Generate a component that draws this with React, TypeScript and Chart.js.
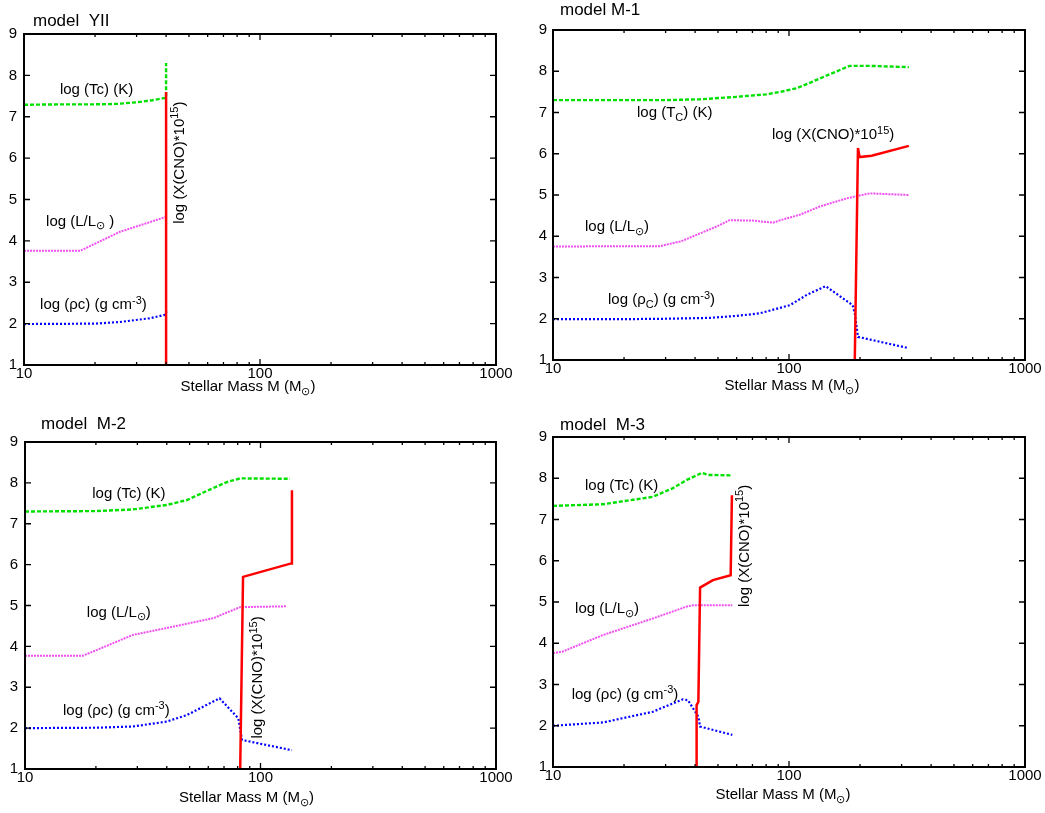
import React, { useEffect, useRef } from 'react';
import { Chart, registerables } from 'chart.js';
Chart.register(...registerables);

const FONT = '"Liberation Sans", Arial, Helvetica, sans-serif';
const GREEN = '#00e000';
const MAGENTA = '#f050f0';
const BLUE = '#0000ff';
const RED = '#ff0000';

// ---- Panel 1: model YII ----
const yiiTcM = [10, 15, 20, 24.8, 30, 35, 40, 40];
const yiiTcV = [7.29, 7.3, 7.3, 7.31, 7.35, 7.4, 7.46, 8.3];
const yiiLM = [10, 17.3, 25.5, 40, 40];
const yiiLV = [3.76, 3.76, 4.22, 4.58, 4.72];
const yiiRhoM = [10, 20, 25.5, 34.2, 40, 40];
const yiiRhoV = [1.99, 2.0, 2.04, 2.13, 2.22, 2.33];
const yiiCnoM = [40, 40];
const yiiCnoV = [1, 7.6];

// ---- Panel 2: model M-1 ----
const m1TcM = [10, 20, 30, 42, 60, 80, 92, 108, 126, 149, 181, 220, 322];
const m1TcV = [7.3, 7.3, 7.3, 7.32, 7.38, 7.44, 7.5, 7.59, 7.75, 7.93, 8.13, 8.13, 8.1];
const m1LM = [10, 20, 28.4, 35, 42, 50, 56, 70, 85.5, 92, 111, 135, 176, 220, 322];
const m1LV = [3.75, 3.76, 3.76, 3.88, 4.07, 4.25, 4.39, 4.38, 4.33, 4.39, 4.52, 4.72, 4.92, 5.04, 5.0];
const m1RhoM = [10, 20, 30, 46, 60, 75, 101, 119, 143, 186, 190, 196, 320];
const m1RhoV = [1.99, 1.99, 2.0, 2.02, 2.07, 2.13, 2.33, 2.58, 2.79, 2.33, 2.13, 1.56, 1.29];
const m1CnoM = [190, 196, 199, 224, 322];
const m1CnoV = [1, 6.14, 5.92, 5.95, 6.19];

// ---- Panel 3: model M-2 ----
const m2TcM = [10, 20, 28.7, 40, 48.7, 59, 72, 82, 133.5];
const m2TcV = [7.3, 7.31, 7.35, 7.46, 7.58, 7.8, 8.02, 8.11, 8.1];
const m2LM = [10, 17.6, 28.7, 40, 63, 82, 129.5];
const m2LV = [3.77, 3.77, 4.28, 4.45, 4.69, 4.96, 4.98];
const m2RhoM = [10, 20, 28.7, 40, 48.7, 67, 80.5, 83.5, 136];
const m2RhoV = [2.0, 2.01, 2.04, 2.16, 2.32, 2.73, 2.24, 1.71, 1.46];
const m2CnoM = [82, 84.3, 135, 136];
const m2CnoV = [1, 5.7, 6.03, 7.82];

// ---- Panel 4: model M-3 ----
const m3TcM = [10, 16.3, 26.5, 32.2, 36.9, 42.7, 45.4, 57.5];
const m3TcV = [7.33, 7.37, 7.55, 7.76, 7.96, 8.13, 8.08, 8.07];
const m3LM = [10, 11, 16.3, 26.5, 36.9, 39.2, 57.5];
const m3LV = [3.76, 3.8, 4.2, 4.6, 4.89, 4.92, 4.92];
const m3RhoM = [10, 16.3, 26.5, 35.5, 37.3, 41.3, 42, 57.5];
const m3RhoV = [2.0, 2.08, 2.34, 2.64, 2.62, 2.22, 1.98, 1.78];
const m3CnoM = [40.4, 40.6, 41.3, 42, 47.6, 56.6, 57.3];
const m3CnoV = [1, 2.5, 2.58, 5.35, 5.53, 5.65, 7.59];

const xTickLabels = [10, 100, 1000];
const yTickLabels = [1, 2, 3, 4, 5, 6, 7, 8, 9];

type Mode = 'n' | 'sub' | 'sup';
type Seg = [string, Mode];
interface Lbl { segs: Seg[]; m: number; v: number; rot?: boolean }

const cnoSegs: Seg[] = [['log (X(CNO)*10', 'n'], ['15', 'sup'], [')', 'n']];
const tcSegs: Seg[] = [['log (Tc) (K)', 'n']];
const tcSubSegs: Seg[] = [['log (T', 'n'], ['C', 'sub'], [') (K)', 'n']];
const lSegs: Seg[] = [['log (L/L', 'n'], ['\u2299', 'sub'], [')', 'n']];
const lSegsSp: Seg[] = [['log (L/L', 'n'], ['\u2299', 'sub'], [' )', 'n']];
const rhoSegs: Seg[] = [['log (\u03c1c) (g cm', 'n'], ['-3', 'sup'], [')', 'n']];
const rhoSubSegs: Seg[] = [['log (\u03c1', 'n'], ['C', 'sub'], [') (g cm', 'n'], ['-3', 'sup'], [')', 'n']];
const xTitleSegs: Seg[] = [['Stellar Mass M (M', 'n'], ['\u2299', 'sub'], [')', 'n']];

interface Panel {
  box: { left: number; top: number; w: number; h: number };
  pad: { left: number; top: number; right: number; bottom: number };
  yPad: number;
  title: string;
  titleOff: [number, number];
  xTitleOff: [number, number];
  tc: [number[], number[]];
  l: [number[], number[]];
  rho: [number[], number[]];
  cno: [number[], number[]];
  labels: Lbl[];
}

const panels: Panel[] = [
  {
    box: { left: 0, top: 0, w: 520, h: 405 },
    pad: { left: 24, top: 34, right: 24, bottom: 40 },
    yPad: 7,
    title: 'model  YII',
    titleOff: [9, -13],
    xTitleOff: [-12, 22],
    tc: [yiiTcM, yiiTcV], l: [yiiLM, yiiLV], rho: [yiiRhoM, yiiRhoV], cno: [yiiCnoM, yiiCnoV],
    labels: [
      { segs: tcSegs, m: 14.2, v: 7.65 },
      { segs: lSegsSp, m: 12.4, v: 4.47 },
      { segs: rhoSegs, m: 11.7, v: 2.45 },
      { segs: cnoSegs, m: 45.8, v: 5.89, rot: true },
    ],
  },
  {
    box: { left: 520, top: 0, w: 525, h: 405 },
    pad: { left: 33, top: 30, right: 20, bottom: 45 },
    yPad: 6,
    title: 'model M-1',
    titleOff: [7, -20],
    xTitleOff: [3, 26],
    tc: [m1TcM, m1TcV], l: [m1LM, m1LV], rho: [m1RhoM, m1RhoV], cno: [m1CnoM, m1CnoV],
    labels: [
      { segs: tcSubSegs, m: 22.7, v: 6.98 },
      { segs: cnoSegs, m: 84.7, v: 6.45 },
      { segs: lSegs, m: 13.66, v: 4.22 },
      { segs: rhoSubSegs, m: 17.1, v: 2.45 },
    ],
  },
  {
    box: { left: 0, top: 405, w: 520, h: 408 },
    pad: { left: 25, top: 37, right: 24, bottom: 44 },
    yPad: 7,
    title: 'model  M-2',
    titleOff: [16, -18],
    xTitleOff: [-14, 29],
    tc: [m2TcM, m2TcV], l: [m2LM, m2LV], rho: [m2RhoM, m2RhoV], cno: [m2CnoM, m2CnoV],
    labels: [
      { segs: tcSegs, m: 19.3, v: 7.73 },
      { segs: lSegs, m: 18.3, v: 4.82 },
      { segs: rhoSegs, m: 14.5, v: 2.42 },
      { segs: cnoSegs, m: 97.8, v: 3.24, rot: true },
    ],
  },
  {
    box: { left: 520, top: 405, w: 525, h: 408 },
    pad: { left: 33, top: 32, right: 20, bottom: 46 },
    yPad: 6,
    title: 'model  M-3',
    titleOff: [7, -12],
    xTitleOff: [-6, 28],
    tc: [m3TcM, m3TcV], l: [m3LM, m3LV], rho: [m3RhoM, m3RhoV], cno: [m3CnoM, m3CnoV],
    labels: [
      { segs: tcSegs, m: 13.66, v: 7.82 },
      { segs: lSegs, m: 12.4, v: 4.83 },
      { segs: rhoSegs, m: 12.0, v: 2.75 },
      { segs: cnoSegs, m: 65.0, v: 6.36, rot: true },
    ],
  },
];

function drawRich(ctx: CanvasRenderingContext2D, segs: Seg[], x: number, y: number, size: number, align: 'left' | 'center') {
  const small = Math.round(size * 0.72);
  const widths = segs.map(([t, m]) => {
    ctx.font = `${m === 'n' ? size : small}px ${FONT}`;
    return ctx.measureText(t).width;
  });
  const total = widths.reduce((a, b) => a + b, 0);
  let cx = align === 'center' ? x - total / 2 : x;
  ctx.textAlign = 'left';
  ctx.textBaseline = 'middle';
  ctx.fillStyle = '#000';
  segs.forEach(([t, m], i) => {
    ctx.font = `${m === 'n' ? size : small}px ${FONT}`;
    const dy = m === 'sup' ? -size * 0.3 : m === 'sub' ? size * 0.3 : 0;
    ctx.fillText(t, cx, y + dy);
    cx += widths[i];
  });
}

function mkData(ms: number[], vs: number[]) {
  return ms.map((m, i) => ({ x: m, y: vs[i] }));
}

function PanelChart({ p }: { p: Panel }) {
  const ref = useRef<HTMLCanvasElement | null>(null);
  useEffect(() => {
    if (!ref.current) return;
    const annot = {
      id: 'annot',
      afterDraw(chart: any) {
        const ctx: CanvasRenderingContext2D = chart.ctx;
        const xs = chart.scales.x;
        const ys = chart.scales.y;
        const a = chart.chartArea;
        ctx.save();
        // frame
        ctx.strokeStyle = '#000';
        ctx.lineWidth = 2;
        ctx.strokeRect(a.left, a.top, a.right - a.left, a.bottom - a.top);
        ctx.lineWidth = 1.3;
        ctx.beginPath();
        // y ticks (inward, both sides)
        yTickLabels.forEach((v) => {
          const py = ys.getPixelForValue(v);
          ctx.moveTo(a.left, py); ctx.lineTo(a.left + 6, py);
          ctx.moveTo(a.right, py); ctx.lineTo(a.right - 6, py);
        });
        // x ticks (inward, bottom and top)
        [10, 100].forEach((dec) => {
          for (let k = 1; k <= 10; k++) {
            const val = dec * k;
            const px = xs.getPixelForValue(val);
            const len = k === 1 || k === 10 ? 6 : 3;
            ctx.moveTo(px, a.bottom); ctx.lineTo(px, a.bottom - len);
            ctx.moveTo(px, a.top); ctx.lineTo(px, a.top + len);
          }
        });
        ctx.stroke();
        // title
        ctx.fillStyle = '#000';
        ctx.font = `17px ${FONT}`;
        ctx.textAlign = 'left';
        ctx.textBaseline = 'middle';
        ctx.fillText(p.title, a.left + p.titleOff[0], a.top + p.titleOff[1]);
        // x axis title
        drawRich(ctx, xTitleSegs, (a.left + a.right) / 2 + p.xTitleOff[0], a.bottom + p.xTitleOff[1], 15, 'center');
        // curve labels
        p.labels.forEach((lb) => {
          const px = xs.getPixelForValue(lb.m);
          const py = ys.getPixelForValue(lb.v);
          if (lb.rot) {
            ctx.save();
            ctx.translate(px, py);
            ctx.rotate(-Math.PI / 2);
            drawRich(ctx, lb.segs, 0, 0, 15, 'center');
            ctx.restore();
          } else {
            drawRich(ctx, lb.segs, px, py, 15, 'left');
          }
        });
        ctx.restore();
      },
    };
    const chart = new Chart(ref.current, {
      type: 'line',
      data: {
        datasets: [
          { label: 'CNO', data: mkData(p.cno[0], p.cno[1]), borderColor: RED, borderWidth: 2.5, pointRadius: 0, fill: false, tension: 0 },
          { label: 'Tc', data: mkData(p.tc[0], p.tc[1]), borderColor: GREEN, borderWidth: 2.4, borderDash: [4, 2], pointRadius: 0, fill: false, tension: 0 },
          { label: 'L', data: mkData(p.l[0], p.l[1]), borderColor: MAGENTA, borderWidth: 2, borderDash: [2, 1], pointRadius: 0, fill: false, tension: 0 },
          { label: 'rho', data: mkData(p.rho[0], p.rho[1]), borderColor: BLUE, borderWidth: 2.2, borderDash: [2, 2], pointRadius: 0, fill: false, tension: 0 },
        ],
      },
      options: {
        animation: false,
        responsive: false,
        devicePixelRatio: 1,
        layout: { padding: { left: 0, top: p.pad.top, right: p.pad.right, bottom: 0 } },
        plugins: { legend: { display: false }, tooltip: { enabled: false }, title: { display: false } },
        scales: {
          x: {
            type: 'logarithmic',
            min: 10,
            max: 1000,
            grid: { display: false, drawTicks: false },
            border: { display: false },
            ticks: {
              autoSkip: false,
              maxRotation: 0,
              padding: 0,
              color: '#000',
              font: { family: FONT, size: 15 },
              callback: (v: any) => (xTickLabels.includes(Number(v)) ? String(v) : ''),
            },
            afterFit: (s: any) => { s.height = p.pad.bottom; },
          },
          y: {
            type: 'linear',
            min: 1,
            max: 9,
            grid: { display: false, drawTicks: false },
            border: { display: false },
            ticks: {
              stepSize: 1,
              padding: p.yPad,
              color: '#000',
              font: { family: FONT, size: 15 },
              callback: (v: any) => (yTickLabels.includes(Number(v)) ? String(v) : ''),
            },
            afterFit: (s: any) => { s.width = p.pad.left; },
          },
        },
      },
      plugins: [annot],
    } as any);
    return () => chart.destroy();
  }, [p]);
  return (
    <canvas
      ref={ref}
      width={p.box.w}
      height={p.box.h}
      style={{ position: 'absolute', left: p.box.left, top: p.box.top, width: p.box.w, height: p.box.h }}
    />
  );
}

export default function App() {
  return (
    <div style={{ position: 'fixed', left: 0, top: 0, width: 1045, height: 813, background: '#fff', overflow: 'hidden' }}>
      {panels.map((p, i) => (
        <PanelChart key={i} p={p} />
      ))}
    </div>
  );
}
